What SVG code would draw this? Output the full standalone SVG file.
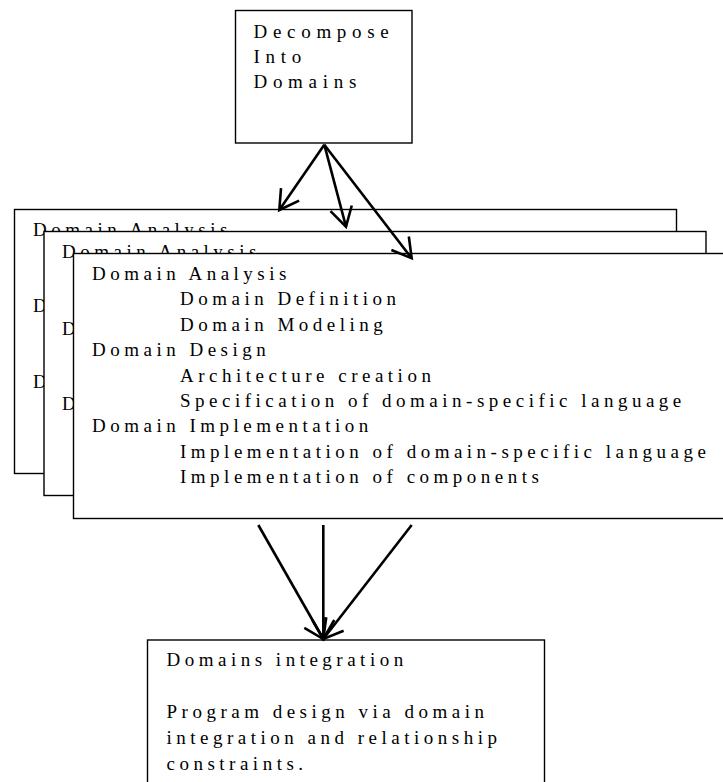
<svg xmlns="http://www.w3.org/2000/svg" width="723" height="782" viewBox="0 0 723 782">
<style>
.box{fill:#fff;stroke:#000;stroke-width:1.4}
.t{font-family:"Liberation Serif","Times New Roman",serif;font-size:19px;fill:#000;letter-spacing:4.5px}
.tt{letter-spacing:5.7px}
.c{stroke:#000;stroke-width:2.6;fill:none}
</style>
<defs>
<marker id="ah" markerUnits="userSpaceOnUse" markerWidth="30" markerHeight="30" refX="19" refY="11" orient="auto" overflow="visible">
<path d="M0,0 L19,11 L0,22" fill="none" stroke="#000" stroke-width="2.6" stroke-linejoin="miter"/>
</marker>
</defs>
<rect width="723" height="782" fill="#fff"/>
<g id="decompose">
<rect class="box" x="235.5" y="10.5" width="176.5" height="132.5"/>
<text class="t tt" x="253.5" y="38">Decompose</text>
<text class="t tt" x="253.5" y="63">Into</text>
<text class="t tt" x="253.5" y="88">Domains</text>
</g>
<g id="domain-card-1">
<rect class="box" x="14.5" y="209.5" width="662" height="264"/>
<text class="t" x="33" y="236">Domain Analysis</text>
<text class="t" x="33" y="312">D</text>
<text class="t" x="33" y="388">D</text>
</g>
<g id="domain-card-2">
<rect class="box" x="44" y="231.5" width="662" height="264"/>
<text class="t" x="62" y="258">Domain Analysis</text>
<text class="t" x="62" y="334.5">D</text>
<text class="t" x="62" y="410">D</text>
</g>
<g id="domain-card-3">
<rect class="box" x="73.5" y="253.5" width="662" height="265"/>
<text class="t" x="92" y="280">Domain Analysis</text>
<text class="t" x="180" y="305.4">Domain Definition</text>
<text class="t" x="180" y="330.8">Domain Modeling</text>
<text class="t" x="92" y="356.2">Domain Design</text>
<text class="t" x="180" y="381.6">Architecture creation</text>
<text class="t" x="180" y="407">Specification of domain-specific language</text>
<text class="t" x="92" y="432.4">Domain Implementation</text>
<text class="t" x="180" y="457.8">Implementation of domain-specific language</text>
<text class="t" x="180" y="483.2">Implementation of components</text>
</g>
<g id="integration">
<rect class="box" x="147.5" y="640" width="397" height="160"/>
<text class="t" x="166.5" y="666">Domains integration</text>
<text class="t" x="166.5" y="718">Program design via domain</text>
<text class="t" x="166.5" y="744">integration and relationship</text>
<text class="t" x="166.5" y="770">constraints.</text>
</g>
<g id="connectors">
<line class="c" x1="324.3" y1="144.7" x2="279.3" y2="210" marker-end="url(#ah)"/>
<line class="c" x1="324.3" y1="144.7" x2="346" y2="226.7" marker-end="url(#ah)"/>
<line class="c" x1="324.3" y1="144.7" x2="411.7" y2="258.3" marker-end="url(#ah)"/>
<line class="c" x1="258.3" y1="525" x2="323.3" y2="639" marker-end="url(#ah)"/>
<line class="c" x1="323.3" y1="525" x2="323.3" y2="639" marker-end="url(#ah)"/>
<line class="c" x1="411.7" y1="525" x2="323.3" y2="639" marker-end="url(#ah)"/>
</g>
</svg>
